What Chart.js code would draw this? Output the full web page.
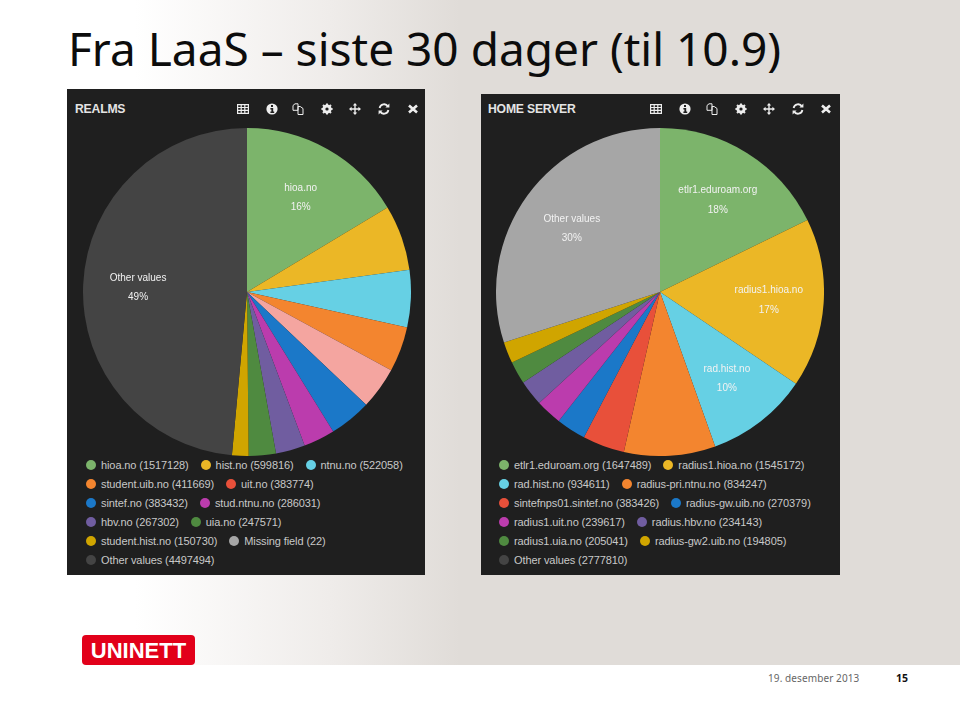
<!DOCTYPE html>
<html lang="no">
<head>
<meta charset="UTF-8" />
<title>Fra LaaS</title>
<script src="https://cdn.jsdelivr.net/npm/chart.js"></script>
<style>
  html, body { margin: 0; padding: 0; }
  body { width: 960px; height: 720px; position: relative; overflow: hidden; background: #fff; font-family: "Liberation Sans", Arial, sans-serif; }
  #bg { position: absolute; left: 0; top: 0; width: 960px; height: 665px; background: linear-gradient(90deg, #fff 0, #fff 135px, #efecea 330px, #e0dcd8 460px, #e0dcd8 960px); }
  h1 { position: absolute; left: 68px; top: 19px; margin: 0; font: 400 46px "Noto Sans", sans-serif; line-height: 58px; color: #0c0c0c; white-space: pre; transform-origin: 0 0; }
  .panel { position: absolute; background: #1f1f1f; }
  .panel h2 { position: absolute; margin: 0; font-size: 12.2px; font-weight: 700; color: #e4e4e4; letter-spacing: -0.2px; }
  .panel canvas { position: absolute; }
  .icon { position: absolute; width: 12px; height: 12px; }
  .legend { position: absolute; font-size: 11px; line-height: 19px; color: #c8c8c8; letter-spacing: -0.1px; }
  .row { white-space: nowrap; height: 19px; }
  .dot { display: inline-block; width: 10px; height: 10px; border-radius: 50%; margin-right: 5px; vertical-align: -1px; }
  .item { margin-right: 12px; }
  #logo { position: absolute; left: 82px; top: 635px; width: 113px; height: 30px; background: #e2001a; border-radius: 4px; color: #fff; font: 700 22px/31px "Liberation Sans", sans-serif; text-align: center; }
  #date { position: absolute; left: 768px; top: 671px; font: 10px "Noto Sans", sans-serif; color: #666; letter-spacing: 0.1px; }
  #page { position: absolute; left: 896px; top: 671px; font: 700 10.5px "Noto Sans", sans-serif; color: #111; }
</style>
</head>
<body>
<div id="bg"></div>
<h1>Fra LaaS – siste 30 dager (til 10.9)</h1>

<div class="panel" id="realms" style="left:67px;top:89px;width:358px;height:486px">
  <h2 style="left:8px;top:13px">REALMS</h2>
  <canvas id="realmsChart" width="328" height="328" style="left:16px;top:39px"></canvas>
  <div class="legend" id="realmsLegend" style="left:19px;top:367px"></div>
</div>

<div class="panel" id="servers" style="left:481px;top:94px;width:359px;height:481px">
  <h2 style="left:7px;top:8px">HOME SERVER</h2>
  <canvas id="serversChart" width="328" height="328" style="left:15px;top:34px"></canvas>
  <div class="legend" id="serversLegend" style="left:18px;top:362px"></div>
</div>

<div id="logo">UNINETT</div>
<div id="date">19. desember 2013</div>
<div id="page">15</div>

<script>
  const realmNames = ["hioa.no", "hist.no", "ntnu.no", "student.uib.no", "uit.no", "sintef.no", "stud.ntnu.no", "hbv.no", "uia.no", "student.hist.no", "Missing field", "Other values"];
  const realmValues = [1517128, 599816, 522058, 411669, 383774, 383432, 286031, 267302, 247571, 150730, 22, 4497494];
  const realmColors = ["#7cb46b", "#ebb726", "#66d0e4", "#f3852f", "#f4a5a0", "#1b78c8", "#bb3cad", "#705da0", "#4f8a40", "#d0a500", "#a6a6a6", "#444444"];
  const realmDots = ["#7cb46b", "#ebb726", "#66d0e4", "#f3852f", "#e8503a", "#1b78c8", "#bb3cad", "#705da0", "#4f8a40", "#d0a500", "#a6a6a6", "#444444"];
  const realmRows = [3, 2, 2, 2, 2, 1];

  const serverNames = ["etlr1.eduroam.org", "radius1.hioa.no", "rad.hist.no", "radius-pri.ntnu.no", "sintefnps01.sintef.no", "radius-gw.uib.no", "radius1.uit.no", "radius.hbv.no", "radius1.uia.no", "radius-gw2.uib.no", "Other values"];
  const serverValues = [1647489, 1545172, 934611, 834247, 383426, 270379, 239617, 234143, 205041, 194805, 2777810];
  const serverColors = ["#7cb46b", "#ebb726", "#66d0e4", "#f3852f", "#e8503a", "#1b78c8", "#bb3cad", "#705da0", "#4f8a40", "#d0a500", "#a6a6a6"];
  const serverDots = ["#7cb46b", "#ebb726", "#66d0e4", "#f3852f", "#e8503a", "#1b78c8", "#bb3cad", "#705da0", "#4f8a40", "#d0a500", "#444444"];
  const serverRows = [2, 2, 2, 2, 2, 1];

  // toolbar icons, same row in both panels
  const iconPaths = [
    '<path fill="none" stroke="#eee" stroke-width="1.2" d="M.6 1.6h10.8v8.8H.6zM.6 4.5h10.8M.6 7.4h10.8M4.2 1.6v8.8M7.8 1.6v8.8"/>',
    '<circle cx="6" cy="6" r="5.6" fill="#eee"/><path fill="#1f1f1f" d="M5 2h2v2H5zM4.4 5h2.8v3.4h1V10H4.4V8.4h1V6.4h-1z"/>',
    '<path fill="none" stroke="#eee" stroke-width="1" d="M1 2.5L3 .8h3v6.5H1zM6 3.5h2.2L11 5.5v6H6z"/>',
    '<circle cx="6" cy="6" r="3.4" fill="none" stroke="#eee" stroke-width="2.4"/><path stroke="#eee" stroke-width="2" d="M6 .4v11.2M.4 6h11.2M2 2l8 8M10 2l-8 8" opacity=".95"/><circle cx="6" cy="6" r="1.6" fill="#1f1f1f"/>',
    '<path stroke="#eee" stroke-width="1.4" d="M6 1v10M1 6h10"/><path fill="#eee" d="M6 0l2.2 2.6H3.8zM6 12l2.2-2.6H3.8zM0 6l2.6-2.2v4.4zM12 6L9.4 3.8v4.4z"/>',
    '<path fill="none" stroke="#eee" stroke-width="1.8" d="M1.6 5A4.6 4.6 0 0 1 10 3.4M10.4 7A4.6 4.6 0 0 1 2 8.6"/><path fill="#eee" d="M11.4 .6v4H7.4zM.6 11.4v-4h4z"/>',
    '<path stroke="#eee" stroke-width="2.6" d="M2 2.5l8 7M10 2.5l-8 7"/>'
  ];

  function addIcons(panelId, xs, y) {
    const panel = document.getElementById(panelId);
    xs.forEach((x, i) => {
      const svg = document.createElementNS("http://www.w3.org/2000/svg", "svg");
      svg.setAttribute("class", "icon");
      svg.setAttribute("viewBox", "0 0 12 12");
      svg.style.left = x + "px";
      svg.style.top = y + "px";
      svg.innerHTML = iconPaths[i];
      panel.appendChild(svg);
    });
  }

  function buildLegend(id, names, values, dots, rows) {
    const legend = document.getElementById(id);
    let k = 0;
    rows.forEach(count => {
      const row = document.createElement("div");
      row.className = "row";
      for (let i = 0; i < count; i++, k++) {
        const item = document.createElement("span");
        item.className = "item";
        item.innerHTML = '<span class="dot" style="background:' + dots[k] + '"></span>' + names[k] + " (" + values[k] + ")";
        row.appendChild(item);
      }
      legend.appendChild(row);
    });
  }

  // name and percent on the slices of 10% or more
  const sliceLabels = {
    id: "sliceLabels",
    afterDatasetsDraw(chart) {
      const ctx = chart.ctx;
      const data = chart.data.datasets[0].data;
      const total = data.reduce((a, b) => a + b, 0);
      ctx.save();
      ctx.font = "10px 'Liberation Sans', sans-serif";
      ctx.fillStyle = "#f2f2f2";
      ctx.textAlign = "center";
      ctx.textBaseline = "middle";
      chart.getDatasetMeta(0).data.forEach((arc, i) => {
        const share = data[i] / total;
        if (share < 0.1) return;
        const p = arc.getProps(["x", "y", "startAngle", "endAngle", "outerRadius"], true);
        const mid = (p.startAngle + p.endAngle) / 2;
        const x = p.x + Math.cos(mid) * p.outerRadius * 0.665;
        const y = p.y + Math.sin(mid) * p.outerRadius * 0.665;
        ctx.fillText(chart.data.labels[i], x, y - 9);
        ctx.fillText(Math.round(share * 100) + "%", x, y + 10.5);
      });
      ctx.restore();
    }
  };

  function makePie(id, names, values, colors) {
    new Chart(document.getElementById(id), {
      type: "pie",
      data: {
        labels: names,
        datasets: [{ data: values, backgroundColor: colors, borderWidth: 0, hoverOffset: 0 }]
      },
      options: {
        responsive: false,
        animation: false,
        plugins: { legend: { display: false }, tooltip: { enabled: false } }
      },
      plugins: [sliceLabels]
    });
  }

  addIcons("realms", [170, 199, 225, 254, 282, 311, 340], 14);
  addIcons("servers", [169, 198, 225, 254, 282, 311, 339], 9);
  buildLegend("realmsLegend", realmNames, realmValues, realmDots, realmRows);
  buildLegend("serversLegend", serverNames, serverValues, serverDots, serverRows);
  makePie("realmsChart", realmNames, realmValues, realmColors);
  makePie("serversChart", serverNames, serverValues, serverColors);
</script>
</body>
</html>
